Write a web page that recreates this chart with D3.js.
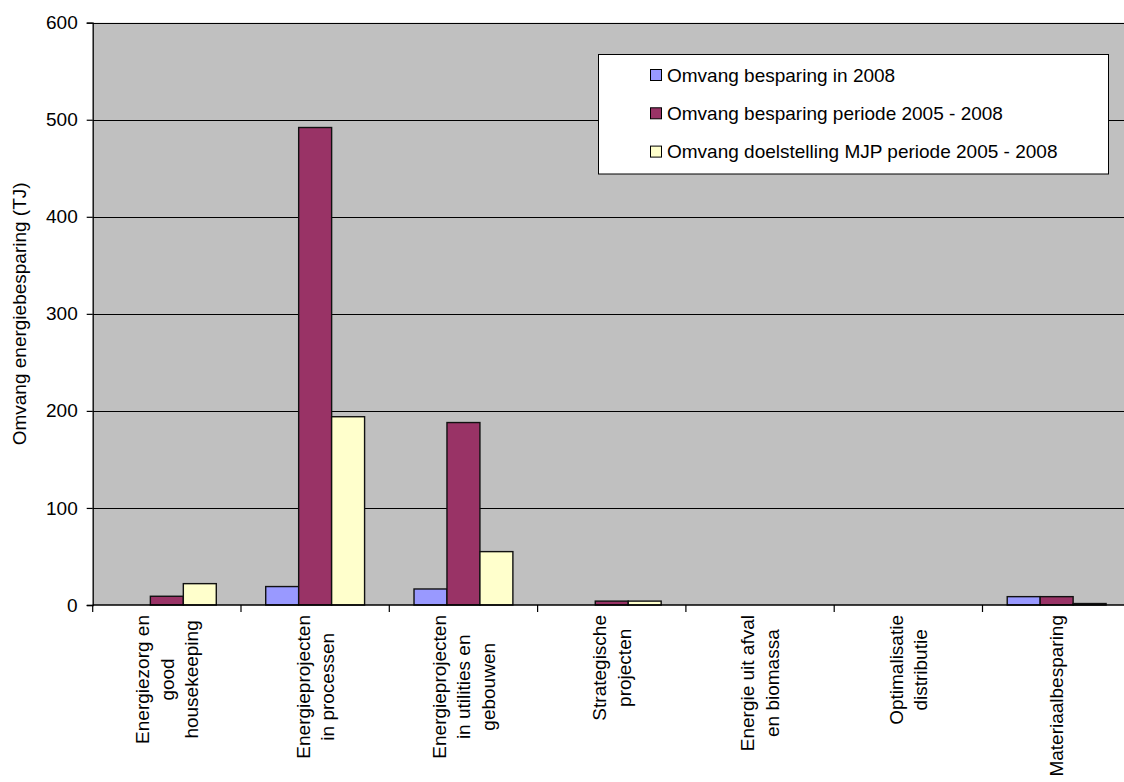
<!DOCTYPE html>
<html>
<head>
<meta charset="utf-8">
<script src="https://cdn.jsdelivr.net/npm/d3@7"></script>
<style>
  html, body { margin: 0; padding: 0; background: #fff; }
  svg { display: block; font-family: "Liberation Sans", Arial, sans-serif; }
</style>
</head>
<body>
<svg id="chart" width="1124" height="782"></svg>
<script>
// Energy savings per measure category (TJ)
const categories = [
  ["Energiezorg en", "good", "housekeeping"],
  ["Energieprojecten", "in processen"],
  ["Energieprojecten", "in utilities en", "gebouwen"],
  ["Strategische", "projecten"],
  ["Energie uit afval", "en biomassa"],
  ["Optimalisatie", "distributie"],
  ["Materiaalbesparing"]
];
const seriesNames = [
  "Omvang besparing in 2008",
  "Omvang besparing periode 2005 - 2008",
  "Omvang doelstelling MJP periode 2005 - 2008"
];
const besparing2008 = [0, 19, 16.5, 0, 0, 0, 8.6];
const besparing2005_2008 = [9, 492, 188, 4, 0, 0, 8.6];
const doelstelling2005_2008 = [22, 194, 55, 4, 0, 0, 1.5];
const seriesColors = ["#9999FF", "#993366", "#FFFFCC"];
const yTicks = [0, 100, 200, 300, 400, 500, 600];
const yTitle = "Omvang energiebesparing (TJ)";

const seriesValues = [besparing2008, besparing2005_2008, doelstelling2005_2008];
const catKeys = categories.map(c => c.join(" "));

const svg = d3.select("#chart");
const fontSize = 19;

const plot = { left: 92.7, right: 1130.8, top: 22.7, bottom: 605 };

const x0 = d3.scaleBand().domain(catKeys).range([plot.left, plot.right]).paddingInner(0).paddingOuter(0);
const x1 = d3.scaleBand().domain(d3.range(seriesNames.length))
  .range([0, x0.bandwidth()]).paddingInner(0).paddingOuter(0.75);
const y = d3.scaleLinear().domain([0, 600]).range([plot.bottom, plot.top]);

// plot area background
svg.append("rect")
  .attr("x", plot.left).attr("y", plot.top)
  .attr("width", plot.right - plot.left).attr("height", plot.bottom - plot.top)
  .attr("fill", "#C0C0C0");

// horizontal gridlines
svg.append("g").selectAll("line")
  .data(yTicks.filter(t => t > 0))
  .join("line")
  .attr("x1", plot.left).attr("x2", plot.right)
  .attr("y1", d => Math.round(y(d)) + 0.5).attr("y2", d => Math.round(y(d)) + 0.5)
  .attr("stroke", "#000").attr("stroke-width", 1);

// bars
const groups = svg.append("g").selectAll("g")
  .data(catKeys)
  .join("g")
  .attr("transform", d => `translate(${x0(d)},0)`);

groups.selectAll("rect")
  .data((d, i) => seriesValues.map((s, j) => ({ j, v: s[i] })).filter(e => e.v > 0))
  .join("rect")
  .attr("x", d => x1(d.j))
  .attr("y", d => y(d.v))
  .attr("width", x1.bandwidth())
  .attr("height", d => y(0) - y(d.v))
  .attr("fill", d => seriesColors[d.j])
  .attr("stroke", "#111")
  .attr("stroke-width", 1.4);

// y axis
const yAxis = d3.axisLeft(y).tickValues(yTicks).tickSize(6).tickPadding(9).tickFormat(d3.format("d"));
const gy = svg.append("g").attr("transform", `translate(${plot.left},0)`).call(yAxis);
gy.select(".domain").attr("stroke", "#000").attr("stroke-width", 1.3);
gy.selectAll(".tick line").attr("stroke", "#000").attr("stroke-width", 1.2);
gy.selectAll(".tick text")
  .attr("font-size", fontSize).attr("fill", "#000")
  .attr("font-family", "Liberation Sans, Arial, sans-serif");

// x axis with ticks at category boundaries
const gx = svg.append("g");
gx.append("line")
  .attr("x1", plot.left).attr("x2", plot.right)
  .attr("y1", plot.bottom).attr("y2", plot.bottom)
  .attr("stroke", "#000").attr("stroke-width", 1.3);
gx.selectAll(".bt")
  .data(catKeys.map(k => x0(k)).concat([plot.right]))
  .join("line")
  .attr("class", "bt")
  .attr("x1", d => d).attr("x2", d => d)
  .attr("y1", plot.bottom).attr("y2", plot.bottom + 7)
  .attr("stroke", "#000").attr("stroke-width", 1.2);

// rotated, wrapped category labels
const lineH = 24.5;
const labelTop = 615;
const lab = svg.append("g").selectAll("g")
  .data(categories)
  .join("g")
  .attr("transform", (d, i) => `translate(${x0(catKeys[i]) + x0.bandwidth() / 2},${labelTop}) rotate(-90)`);

lab.each(function (lines) {
  const g = d3.select(this);
  const texts = g.selectAll("text")
    .data(lines)
    .join("text")
    .attr("font-size", fontSize)
    .attr("fill", "#000")
    .attr("text-anchor", "middle")
    .attr("dy", "0.35em")
    .text(d => d);
  let maxW = 0;
  texts.each(function () { maxW = Math.max(maxW, this.getComputedTextLength()); });
  const n = lines.length;
  texts
    .attr("x", -maxW / 2)
    .attr("y", (d, i) => (i - (n - 1) / 2) * lineH);
});

// y axis title
svg.append("text")
  .attr("transform", `translate(19,${(plot.top + plot.bottom) / 2}) rotate(-90)`)
  .attr("text-anchor", "middle")
  .attr("dy", "0.35em")
  .attr("font-size", fontSize)
  .attr("fill", "#000")
  .text(yTitle);

// legend
const legend = svg.append("g");
legend.append("rect")
  .attr("x", 598.5).attr("y", 54.5)
  .attr("width", 510).attr("height", 119.5)
  .attr("fill", "#fff").attr("stroke", "#000").attr("stroke-width", 1);
const entries = legend.selectAll("g.entry")
  .data(seriesNames)
  .join("g")
  .attr("class", "entry")
  .attr("transform", (d, i) => `translate(650,${75 + i * 38.3})`);
entries.append("rect")
  .attr("x", 0.5).attr("y", -5.5)
  .attr("width", 11).attr("height", 11)
  .attr("fill", (d, i) => seriesColors[i])
  .attr("stroke", "#000").attr("stroke-width", 1);
entries.append("text")
  .attr("x", 17).attr("dy", "0.35em")
  .attr("font-size", fontSize).attr("fill", "#000")
  .text(d => d);
</script>
</body>
</html>
